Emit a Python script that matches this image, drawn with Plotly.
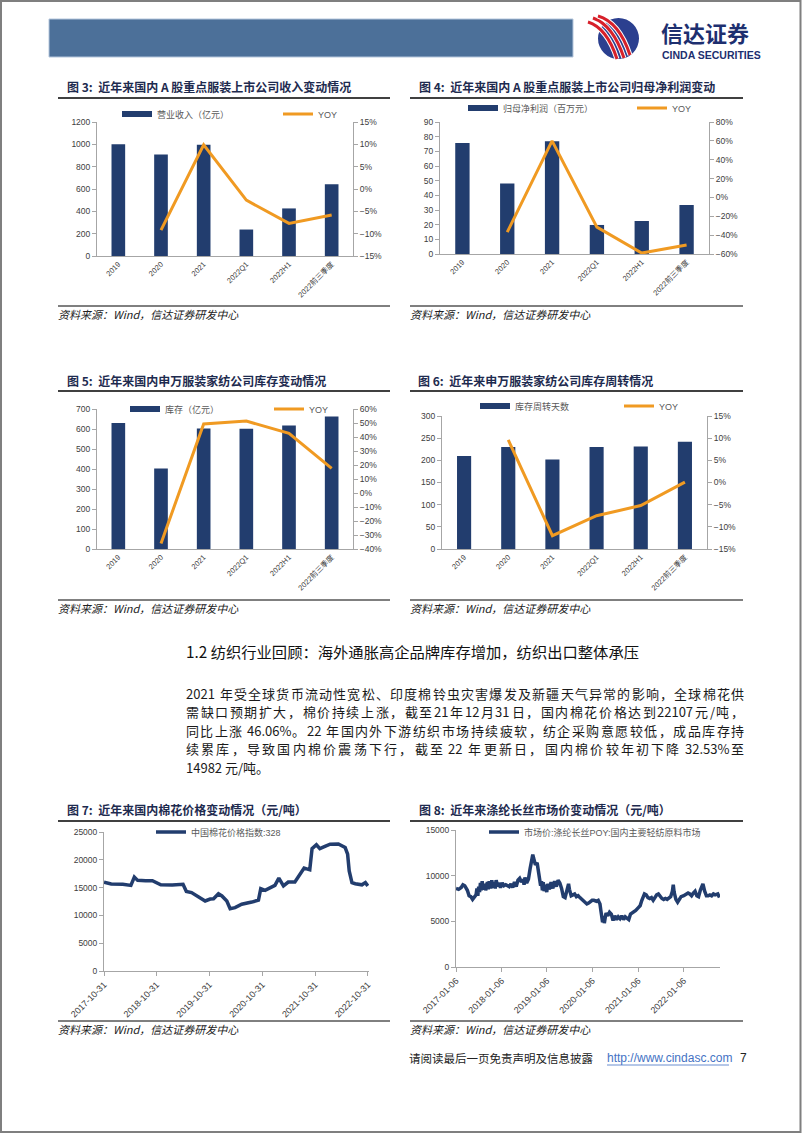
import plotly.graph_objects as go

W, H = 802, 1133

# ---------------- data ----------------
categories = ["2019", "2020", "2021", "2022Q1", "2022H1", "2022前三季度"]
revenue = [1000, 908, 997, 237, 426, 643]
revenue_yoy = [None, -9.2, 9.9, -2.5, -7.7, -5.8]
profit = [75.7, 48.0, 76.8, 19.8, 22.5, 33.4]
profit_yoy = [None, -36.8, 60.0, -31.5, -59.0, -50.5]
inventory = [630, 403, 603, 601, 617, 663]
inventory_yoy = [None, -36.0, 49.3, 51.4, 42.6, 17.6]
turnover_days = [210, 230, 202, 230, 231, 242]
turnover_yoy = [None, 9.6, -12.0, -7.5, -5.2, 0.1]

cotton_dates = ["2017-10-31", "2017-12-20", "2018-03-10", "2018-05-05", "2018-05-29", "2018-06-21",
                "2018-08-15", "2018-10-01", "2018-11-28", "2019-02-15", "2019-05-01", "2019-05-24",
                "2019-06-29", "2019-08-03", "2019-09-07", "2019-10-01", "2019-11-05", "2019-11-28",
                "2020-01-01", "2020-01-25", "2020-02-28", "2020-03-22", "2020-04-25", "2020-06-10",
                "2020-08-19", "2020-10-04", "2020-10-20", "2020-11-19", "2021-01-26", "2021-02-22",
                "2021-03-26", "2021-04-28", "2021-06-13", "2021-07-28", "2021-08-16", "2021-09-24",
                "2021-10-10", "2021-11-09", "2021-12-03", "2022-01-07", "2022-02-12", "2022-04-10",
                "2022-05-27", "2022-06-13", "2022-06-24", "2022-07-13", "2022-08-05", "2022-09-20",
                "2022-10-14", "2022-10-31"]
cotton_price = [15970, 15650, 15600, 15400, 16900, 16300,
                16250, 16250, 15500, 15450, 15600, 14300,
                14100, 13500, 13000, 12600, 12950, 13000,
                13900, 13500, 12600, 11200, 11400, 12000,
                12400, 12750, 14800, 14500, 15400, 16700,
                15300, 16000, 16000, 17800, 18500, 18200,
                22000, 22700, 22000, 22400, 22800, 22850,
                22200, 21000, 18000, 15900, 15700, 15500,
                15900, 15300]

poy_dates = ["2017-01-06", "2017-01-27", "2017-02-17", "2017-03-03", "2017-03-17", "2017-04-07",
             "2017-04-21", "2017-05-05", "2017-05-19", "2017-06-02", "2017-06-16", "2017-06-23",
             "2017-06-30", "2017-07-07", "2017-07-14", "2017-07-21", "2017-07-28", "2017-08-04",
             "2017-08-11", "2017-08-25", "2017-09-01", "2017-09-15", "2017-09-22", "2017-09-29",
             "2017-10-13", "2017-10-20", "2017-10-27", "2017-11-10", "2017-11-17", "2017-11-24",
             "2017-12-08", "2017-12-15", "2017-12-29", "2018-01-12", "2018-01-26", "2018-02-09",
             "2018-03-09", "2018-03-23", "2018-04-06", "2018-04-20", "2018-05-04", "2018-05-18",
             "2018-06-01", "2018-06-15", "2018-06-29", "2018-07-06", "2018-07-13", "2018-07-27",
             "2018-08-10", "2018-08-24", "2018-09-07", "2018-09-14", "2018-09-21", "2018-10-05",
             "2018-10-19", "2018-11-02", "2018-11-09", "2018-11-16", "2018-11-23", "2018-11-30",
             "2018-12-07", "2018-12-14", "2018-12-21", "2019-01-04", "2019-01-11", "2019-01-25",
             "2019-02-08", "2019-02-22", "2019-03-08", "2019-03-22", "2019-04-05", "2019-04-19",
             "2019-05-03", "2019-05-17", "2019-05-31", "2019-06-14", "2019-06-28", "2019-07-05",
             "2019-07-19", "2019-08-02", "2019-08-16", "2019-08-30", "2019-09-13", "2019-09-27",
             "2019-10-11", "2019-10-25", "2019-11-08", "2019-11-22", "2019-12-06", "2019-12-20",
             "2020-01-03", "2020-01-17", "2020-02-07", "2020-02-21", "2020-03-06", "2020-03-13",
             "2020-03-20", "2020-03-27", "2020-04-03", "2020-04-10", "2020-04-17", "2020-04-24",
             "2020-05-08", "2020-05-22", "2020-06-05", "2020-06-19", "2020-07-03", "2020-07-17",
             "2020-07-31", "2020-08-14", "2020-08-28", "2020-09-11", "2020-09-25", "2020-10-09",
             "2020-10-23", "2020-11-06", "2020-11-20", "2020-12-04", "2020-12-18", "2021-01-08",
             "2021-01-22", "2021-02-05", "2021-02-26", "2021-03-12", "2021-03-26", "2021-04-09",
             "2021-04-23", "2021-05-07", "2021-05-21", "2021-06-04", "2021-06-18", "2021-07-02",
             "2021-07-16", "2021-07-30", "2021-08-13", "2021-08-27", "2021-09-10", "2021-09-24",
             "2021-10-08", "2021-10-15", "2021-10-22", "2021-11-05", "2021-11-19", "2021-12-03",
             "2021-12-17", "2022-01-07", "2022-01-21", "2022-02-11", "2022-02-25", "2022-03-11",
             "2022-03-25", "2022-04-08", "2022-04-22", "2022-05-06", "2022-05-20", "2022-06-03",
             "2022-06-10", "2022-06-24", "2022-07-08", "2022-07-22", "2022-08-05", "2022-08-19",
             "2022-09-02", "2022-09-16", "2022-10-07", "2022-10-21"]
poy_price = [8600, 8500, 8700, 9000, 8900, 8400,
             7800, 7700, 7400, 7600, 7900, 8600,
             7800, 8800, 8200, 9200, 8400, 9400,
             8500, 9100, 8400, 9300, 8500, 9400,
             8600, 9500, 8700, 9300, 8600, 9500,
             8800, 9200, 8700, 9200, 8900, 9000,
             8800, 9100, 8700, 9300, 8800, 9500,
             9700, 9300, 9600, 9000, 9800, 9200,
             9600, 10800, 11800, 12300, 11900, 11200,
             11400, 10000, 9200, 8900, 9400, 8400,
             9300, 8300, 9000, 8200, 9100, 8500,
             9300, 8600, 9400, 8800, 9500, 9200,
             8600, 7700, 7600, 8200, 9100, 8500,
             7800, 7900, 8000, 7700, 7800, 7600,
             7400, 7300, 7000, 6900, 7000, 7200,
             7300, 7300, 7200, 7300, 6900, 6200,
             5200, 4900, 5600, 4800, 5400, 5900,
             5600, 6000, 5800, 5100, 5600, 5200,
             5500, 5300, 5600, 5200, 5500, 5300,
             5200, 5800, 5900, 6100, 6200, 6500,
             6700, 7300, 8000, 7900, 7600, 7500,
             7600, 7300, 7600, 7900, 8000, 7700,
             7500, 7400, 7500, 7400, 7600, 7700,
             8300, 9000, 8200, 7400, 7100, 7400,
             7700, 7800, 7900, 8100, 8000, 7800,
             8100, 8300, 7800, 7700, 8400, 9000,
             9100, 8300, 7800, 7800, 7900, 7800,
             8000, 7900, 8000, 7600]

cotton_ticks = ["2017-10-31", "2018-10-31", "2019-10-31", "2020-10-31", "2021-10-31", "2022-10-31"]
poy_ticks = ["2017-01-06", "2018-01-06", "2019-01-06", "2020-01-06", "2021-01-06", "2022-01-06"]

# ---------------- helpers ----------------
def X(p):
    return p / W


def Y(p):
    return 1 - p / H


NAVY = "#223D6E"
ORANGE = "#F09A22"
AXC = "#A6A6A6"
TXT = "#404040"
FONT = "Liberation Sans, Arial, Noto Sans CJK SC, sans-serif"
CJK = "Noto Sans CJK SC, sans-serif"
TITLE_C = "#1E2B4F"

fig = go.Figure()
layout = dict(width=W, height=H, margin=dict(l=0, r=0, t=0, b=0, autoexpand=False), autosize=False,
              paper_bgcolor="white", plot_bgcolor="rgba(0,0,0,0)", bargap=0.68,
              showlegend=True, font=dict(family=FONT, color=TXT))
shapes = []
ann = []


def line(x0, y0, x1, y1, color="#000", width=1):
    shapes.append(dict(type="line", xref="paper", yref="paper", x0=X(x0), y0=Y(y0), x1=X(x1), y1=Y(y1),
                       line=dict(color=color, width=width)))


def rect(x0, y0, x1, y1, fill, lc=None, lw=0):
    shapes.append(dict(type="rect", xref="paper", yref="paper", x0=X(x0), y0=Y(y0), x1=X(x1), y1=Y(y1),
                       fillcolor=fill, line=dict(color=lc or fill, width=lw)))


def text(x, y, s, size, color="#1a1a1a", family=CJK, xanchor="left", yanchor="middle", weight=None, italic=False):
    f = dict(size=size, color=color, family=family)
    if weight:
        f["weight"] = weight
    if italic:
        f["style"] = "italic"
    ann.append(dict(x=X(x), y=Y(y), xref="paper", yref="paper", text=s, showarrow=False,
                    xanchor=xanchor, yanchor=yanchor, font=f, borderpad=0, borderwidth=0))


AX = dict(showline=True, linecolor=AXC, linewidth=1, ticks="outside", ticklen=4, tickcolor=AXC,
          showgrid=False, zeroline=False, fixedrange=True, automargin=False,
          tickfont=dict(size=8.5, color=TXT, family=FONT))


def legend_cfg(x, y):
    return dict(x=X(x), y=Y(y), xanchor="left", yanchor="middle", orientation="h",
                bgcolor="rgba(0,0,0,0)", itemwidth=30, font=dict(size=9, color="#595959", family=FONT))


legend_names = []


def next_legend():
    n = len(legend_names) + 1
    name = "legend" if n == 1 else f"legend{n}"
    legend_names.append(name)
    return name


# ---------------- bar + line charts ----------------
bar_charts = [
    dict(bars=revenue, yoy=revenue_yoy, name="营业收入（亿元）", xd=(97, 353), yd=(122, 256),
         lr=(0, 1200), ld=200, rr=(-15, 15), rd=5, legA=125, legB=286, legy=114),
    dict(bars=profit, yoy=profit_yoy, name="归母净利润（百万元）", xd=(440, 709), yd=(122, 254),
         lr=(0, 90), ld=10, rr=(-60, 80), rd=20, legA=471, legB=640, legy=108),
    dict(bars=inventory, yoy=inventory_yoy, name="库存（亿元）", xd=(97, 353), yd=(409, 549),
         lr=(0, 700), ld=100, rr=(-40, 60), rd=10, legA=133, legB=277, legy=409),
    dict(bars=turnover_days, yoy=turnover_yoy, name="库存周转天数", xd=(442, 707), yd=(416, 549),
         lr=(0, 300), ld=50, rr=(-15, 15), rd=5, legA=483, legB=627, legy=406),
]

for k, c in enumerate(bar_charts):
    xid = k + 1
    yl = 2 * k + 1
    yr = 2 * k + 2
    xref = "x" if xid == 1 else f"x{xid}"
    ylref = "y" if yl == 1 else f"y{yl}"
    yrref = f"y{yr}"
    xname = "xaxis" if xid == 1 else f"xaxis{xid}"
    ylname = "yaxis" if yl == 1 else f"yaxis{yl}"
    yrname = f"yaxis{yr}"

    fig.add_trace(go.Bar(x=categories, y=c["bars"], marker=dict(color=NAVY, line=dict(width=0)),
                         xaxis=xref, yaxis=ylref, showlegend=False, name=c["name"]))
    la = next_legend()
    fig.add_trace(go.Scatter(x=[None], y=[None], mode="lines", line=dict(color=NAVY, width=6),
                             name=c["name"], xaxis=xref, yaxis=ylref, legend=la))
    lb = next_legend()
    fig.add_trace(go.Scatter(x=categories, y=c["yoy"], mode="lines", line=dict(color=ORANGE, width=3),
                             name="YOY", xaxis=xref, yaxis=yrref, legend=lb))
    layout[la] = legend_cfg(c["legA"] - 8, c["legy"])
    layout[lb] = legend_cfg(c["legB"] - 8, c["legy"])

    layout[xname] = dict(AX, type="category", domain=[X(c["xd"][0]), X(c["xd"][1])], anchor=ylref,
                         range=[-0.5, 5.5], tickangle=-45, ticks="",
                         tickfont=dict(size=7.5, color=TXT, family=FONT))
    layout[ylname] = dict(AX, domain=[Y(c["yd"][1]), Y(c["yd"][0])], anchor=xref,
                          range=list(c["lr"]), dtick=c["ld"], tick0=0)
    layout[yrname] = dict(AX, overlaying=ylref, side="right", anchor=xref,
                          range=list(c["rr"]), dtick=c["rd"], tick0=0, ticksuffix="%")

# ---------------- line charts ----------------
line_charts = [
    dict(dates=cotton_dates, vals=cotton_price, name="中国棉花价格指数:328", xd=(104, 369), yd=(832, 971),
         xr=["2017-10-31", "2022-11-08"], yr=(0, 25000), ticks=cotton_ticks, leg=159, legy=832),
    dict(dates=poy_dates, vals=poy_price, name="市场价:涤纶长丝POY:国内主要轻纺原料市场", xd=(456, 720),
         yd=(830, 967), xr=["2017-01-06", "2022-10-25"], yr=(0, 15000), ticks=poy_ticks, leg=492, legy=832),
]
for j, c in enumerate(line_charts):
    xid = 5 + j
    yid = 9 + j
    xref, yref = f"x{xid}", f"y{yid}"
    lg = next_legend()
    fig.add_trace(go.Scatter(x=c["dates"], y=c["vals"], mode="lines", line=dict(color=NAVY, width=3.5),
                             name=c["name"], xaxis=xref, yaxis=yref, legend=lg))
    layout[lg] = legend_cfg(c["leg"] - 8, c["legy"])
    layout[f"xaxis{xid}"] = dict(AX, type="date", domain=[X(c["xd"][0]), X(c["xd"][1])], anchor=yref,
                                 range=c["xr"], tickvals=c["ticks"], ticktext=c["ticks"], tickangle=-45,
                                 tickfont=dict(size=9, color=TXT, family=FONT))
    layout[f"yaxis{yid}"] = dict(AX, domain=[Y(c["yd"][1]), Y(c["yd"][0])], anchor=xref,
                                 range=list(c["yr"]), dtick=5000, tick0=0, tickformat="d")

# ---------------- page decoration ----------------
rect(1, 1, 800.5, 1132, "rgba(0,0,0,0)", "#7F7F7F", 2)
rect(49, 19, 573, 57, "#4C7099", "#B4C6DC", 1)

# logo
shapes.append(dict(type="circle", xref="paper", yref="paper", x0=X(598), y0=Y(18), x1=X(639), y1=Y(59),
                   fillcolor="#2B3F8F", line=dict(width=0)))


def curve(p0, pc, p1, color, width):
    d = f"M {X(p0[0])},{Y(p0[1])} Q {X(pc[0])},{Y(pc[1])} {X(p1[0])},{Y(p1[1])}"
    shapes.append(dict(type="path", xref="paper", yref="paper", path=d, line=dict(color=color, width=width)))


for p0, pc, p1 in [((588, 22), (607, 28), (617, 59)),
                   ((593, 18), (613, 25), (624, 58)),
                   ((598, 16), (619, 22), (630, 55))]:
    curve(p0, pc, p1, "white", 5)
    curve(p0, pc, p1, "#D7202A", 3)

text(661, 32, "信达证券", 22, color="#1D2F6F", weight=700)
text(662, 54.5, "CINDA SECURITIES", 10.5, color="#1D2F6F", family=FONT, weight=700)

# titles, rules and sources
titles = [
    (67, 87, "图 3:  近年来国内 A 股重点服装上市公司收入变动情况"),
    (419, 87, "图 4:  近年来国内 A 股重点服装上市公司归母净利润变动"),
    (67, 380, "图 5:  近年来国内申万服装家纺公司库存变动情况"),
    (418, 380, "图 6:  近年来申万服装家纺公司库存周转情况"),
    (67, 809, "图 7:  近年来国内棉花价格变动情况（元/吨）"),
    (419, 809, "图 8:  近年来涤纶长丝市场价变动情况（元/吨）"),
]
for x, y, s in titles:
    text(x, y, s, 12, color=TITLE_C, weight=700)

for y in (98, 391, 821):
    line(58, y, 390, y, "#000", 1.3)
    line(410, y, 743, y, "#000", 1.3)
for y in (306, 600, 1021):
    line(58, y, 390, y, "#000", 1)
    line(410, y, 743, y, "#000", 1)
for y in (314, 608, 1029):
    text(58, y, "资料来源：Wind，信达证券研发中心", 11, color="#222", italic=True)
    text(410, y, "资料来源：Wind，信达证券研发中心", 11, color="#222", italic=True)

# section heading and body text
text(186, 651, "1.2 纺织行业回顾：海外通胀高企品牌库存增加，纺织出口整体承压", 15.3, color="#111")


def est_width(s, fs):
    w = 0.0
    for ch in s:
        o = ord(ch)
        if o > 0x2E80:
            w += fs
        elif ch == " ":
            w += 0.25 * fs
        elif ch == ".":
            w += 0.28 * fs
        elif ch == "%":
            w += 0.85 * fs
        elif ch == "/":
            w += 0.38 * fs
        else:
            w += 0.56 * fs
    return w


def tokenize(s):
    toks = []
    spaces = 0
    buf = ""
    buf_sp = 0
    for ch in s:
        if ch == " ":
            if buf:
                toks.append([buf, buf_sp])
                buf = ""
            spaces += 1
        elif ord(ch) > 0x2E80:
            if buf:
                toks.append([buf, buf_sp])
                buf = ""
            toks.append([ch, spaces])
            spaces = 0
        else:
            if not buf:
                buf_sp = spaces
                spaces = 0
            buf += ch
    if buf:
        toks.append([buf, buf_sp])
    return toks


body_lines = [
    "2021 年受全球货币流动性宽松、印度棉铃虫灾害爆发及新疆天气异常的影响，全球棉花供",
    "需缺口预期扩大，棉价持续上涨，截至21年12月31日，国内棉花价格达到22107元/吨，",
    "同比上涨 46.06%。22 年国内外下游纺织市场持续疲软，纺企采购意愿较低，成品库存持",
    "续累库，导致国内棉价震荡下行，截至 22 年更新日，国内棉价较年初下降 32.53%至",
    "14982 元/吨。",
]
body_y = [693, 711.5, 730, 748.5, 767]
FS = 13
BX0, BX1 = 186, 744
for i, (s, y) in enumerate(zip(body_lines, body_y)):
    if i == len(body_lines) - 1:
        text(BX0, y, s, FS)
        continue
    toks = tokenize(s)
    widths = [est_width(t, FS) for t, _ in toks]
    spw = [sp * 0.25 * FS for _, sp in toks]
    gap = (BX1 - BX0 - sum(widths) - sum(spw)) / (len(toks) - 1)
    xx = float(BX0)
    for j, ((t, sp), w) in enumerate(zip(toks, widths)):
        xx += spw[j]
        if j == len(toks) - 1:
            text(BX1, y, t, FS, xanchor="right")
        else:
            text(xx, y, t, FS)
        xx += w + gap

# footer
text(409, 1058, "请阅读最后一页免责声明及信息披露", 11.5, color="#222")
text(607, 1058, "http://www.cindasc.com", 12, color="#4472C4", family=FONT)
line(607, 1065, 729, 1065, "#4472C4", 0.8)
text(740, 1058, "7", 12, color="#222", family=FONT)

layout["shapes"] = shapes
layout["annotations"] = ann
fig.update_layout(**layout)
fig.write_html("out.html")
